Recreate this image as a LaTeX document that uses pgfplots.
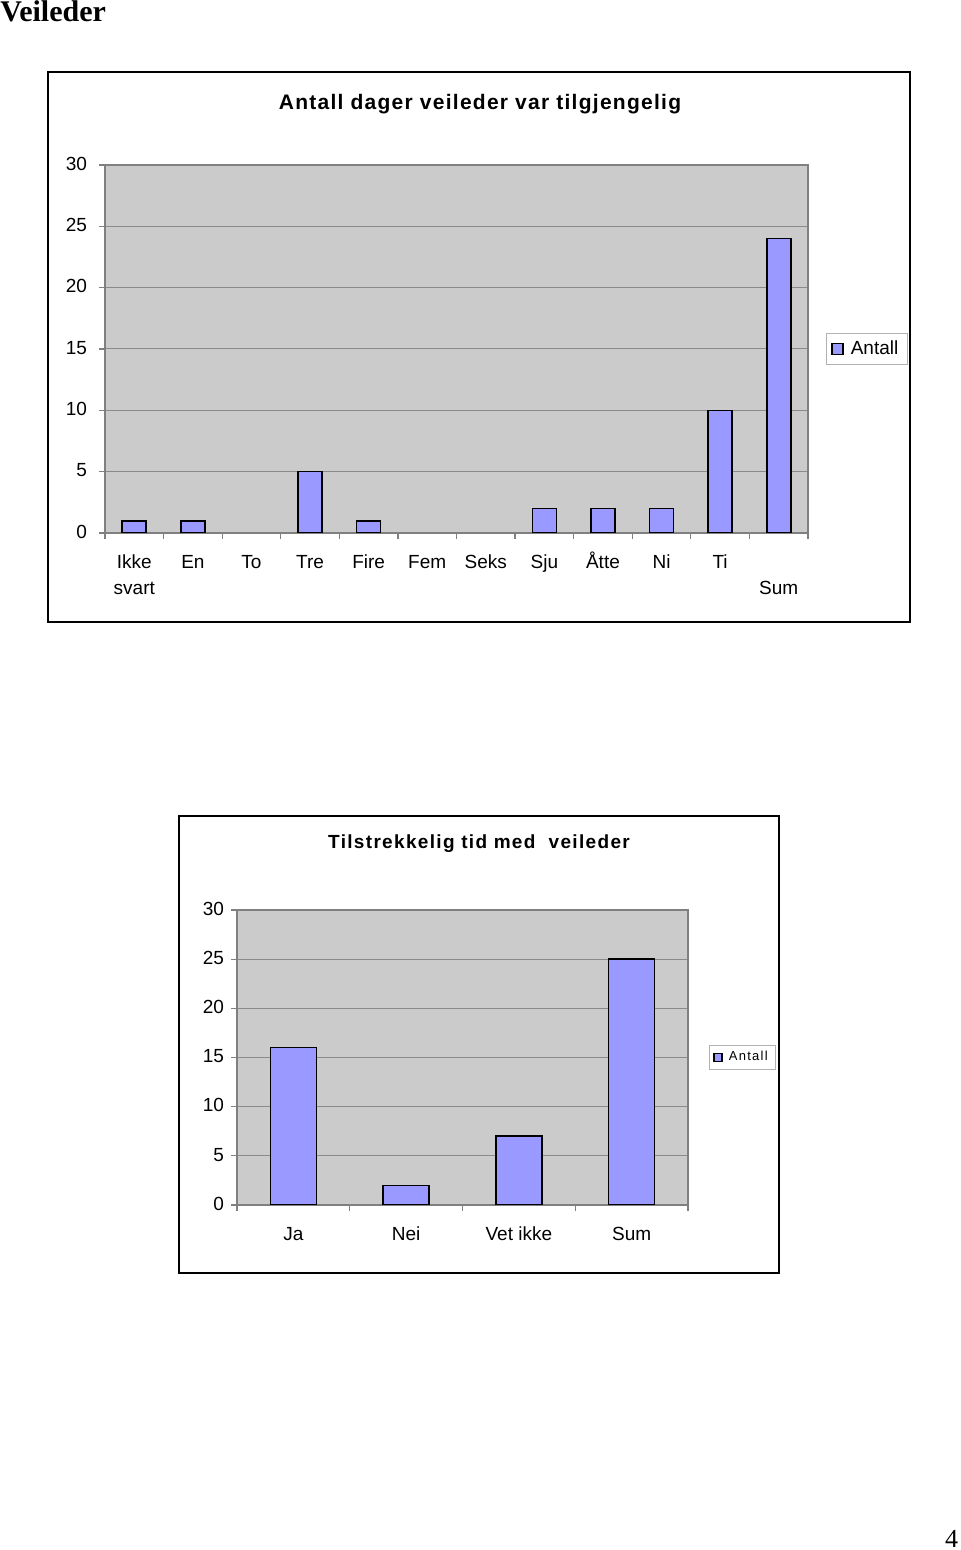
\documentclass[border=0pt]{standalone}
\usepackage{fontspec}
\setmainfont{Liberation Sans}
\newfontfamily\seriffont{Liberation Serif}
\newfontfamily\titlefont[LetterSpace=6]{Liberation Sans}
\newfontfamily\titlefontb[LetterSpace=7]{Liberation Sans}
\newfontfamily\legfont[LetterSpace=10]{Liberation Sans}
\usepackage{pgfplots}
\pgfplotsset{compat=1.18}
\definecolor{barblue}{HTML}{9999FF}
\definecolor{plotgray}{HTML}{CBCBCB}
\definecolor{gridgray}{HTML}{8A8A8A}
\definecolor{framegray}{HTML}{808080}
\pgfplotsset{
  excelbar/.style={
    scale only axis,
    anchor=south west,
    ymin=0, ymax=30,
    ytick={0,5,...,30},
    /pgf/number format/assume math mode=true,
    axis background/.style={fill=plotgray},
    axis line style={draw=framegray, line width=0.6pt},
    ymajorgrids,
    grid style={draw=gridgray, line width=0.5pt},
    xtick pos=bottom, ytick pos=left,
    tick align=outside,
    major tick length=3pt,
    ytick style={draw=framegray, line width=0.6pt},
    xtick style={draw=none},
    extra x tick style={xtick style={draw=framegray, line width=0.6pt}, xticklabels={}},
    ticklabel style={font=\fontsize{9.5}{13}\selectfont},
    typeset ticklabels with strut,
    xticklabel style={align=center, yshift=-2pt},
    legend image code/.code={\draw[fill=barblue, draw=black, line width=0.7pt] (0pt,-2.75pt) rectangle (5.5pt,2.75pt);},
  }
}
\begin{document}
\begin{tikzpicture}
\useasboundingbox (0pt,0pt) rectangle (480pt,775pt);
\node[anchor=base west, inner sep=0, font=\seriffont\bfseries\fontsize{15}{17}\selectfont] at (0pt,764pt) {Veileder};
% chart 1
\draw[line width=1pt] (24pt,464pt) rectangle (455pt,739pt);
\node[font=\titlefont\bfseries\fontsize{10.5}{12}\selectfont] at (240pt,723pt) {Antall dager veileder var tilgjengelig};
\begin{axis}[excelbar,
  at={(52.5pt,508.5pt)}, width=351.5pt, height=184pt,
  xmin=-0.5, xmax=11.5,
  xtick={0,...,11},
  xticklabels={Ikke\\svart, En, To, Tre, Fire, Fem, Seks, Sju, \smash{Å}tte, Ni, Ti, \mbox{}\\Sum},
  extra x ticks={-0.5,0.5,...,11.5},
  yticklabel style={xshift=-2.5pt},
  legend style={at={(axis description cs:1,0.5)}, anchor=west, xshift=9pt, draw=gray!60, font=\fontsize{9.5}{11}\selectfont, inner xsep=2.5pt, inner ysep=1.5pt, column sep=1.5pt},
]
\addplot[ybar, bar width=12pt, fill=barblue, draw=black, line width=0.8pt]
  coordinates {(0,1) (1,1) (3,5) (4,1) (7,2) (8,2) (9,2) (10,10) (11,24)};
\legend{Antall}
\end{axis}
% chart 2
\draw[line width=1pt] (89.5pt,138.5pt) rectangle (389.5pt,367pt);
\node[font=\titlefontb\bfseries\fontsize{9.5}{11}\selectfont] at (239.5pt,353pt) {Tilstrekkelig tid med\ \ veileder};
\begin{axis}[excelbar,
  at={(118.5pt,172.5pt)}, width=225.5pt, height=147.5pt,
  xmin=-0.5, xmax=3.5,
  xtick={0,...,3},
  xticklabels={Ja, Nei, Vet ikke, Sum},
  extra x ticks={-0.5,0.5,...,3.5},
  legend image code/.code={\draw[fill=barblue, draw=black, line width=0.7pt] (0pt,-2pt) rectangle (4pt,2pt);},
  legend style={at={(axis description cs:1,0.5)}, anchor=west, xshift=10.5pt, draw=gray!60, font=\legfont\fontsize{6.5}{8}\selectfont, inner xsep=2pt, inner ysep=1pt, column sep=1pt},
]
\addplot[ybar, bar width=23pt, fill=barblue, draw=black, line width=0.8pt]
  coordinates {(0,16) (1,2) (2,7) (3,25)};
\legend{Antall}
\end{axis}
\node[anchor=base east, inner sep=0, font=\seriffont\fontsize{13}{15}\selectfont] at (479.3pt,1.5pt) {4};
\end{tikzpicture}
\end{document}
